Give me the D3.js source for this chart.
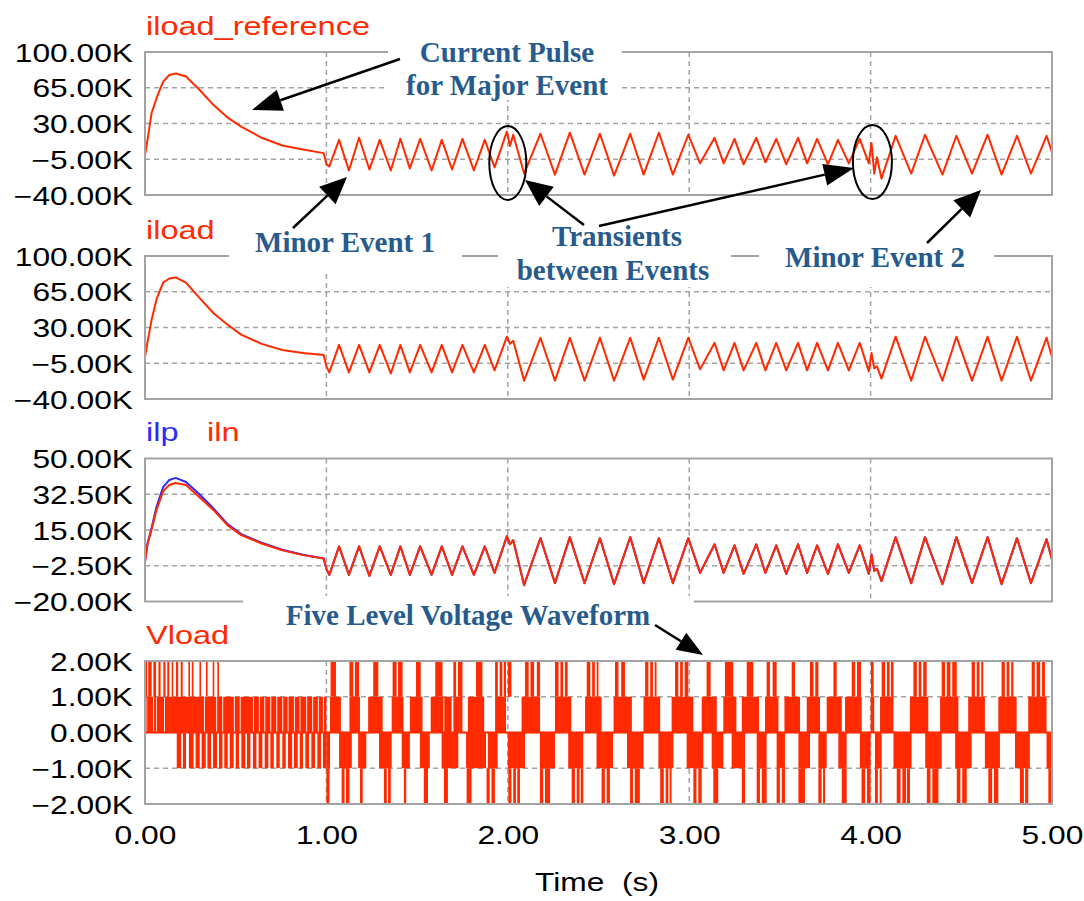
<!DOCTYPE html>
<html>
<head>
<meta charset="utf-8">
<script src="https://cdn.jsdelivr.net/npm/d3@7"></script>
<style>
  body { margin: 0; background: #fff; }
  svg { display: block; }
</style>
</head>
<body>
<div id="container"></div>
<script>
/* ---- data ---- */
const xTicks = [0, 1, 2, 3, 4, 5];
const refTicks = [100, 65, 30, -5, -40];
const iloadTicks = [100, 65, 30, -5, -40];
const ilTicks = [50, 32.5, 15, -2.5, -20];
const vTicks = [2, 1, 0, -1, -2];

/* current pulse (0..1 s), kA */
const pulseT     = [0, 0.014, 0.036, 0.064, 0.1, 0.134, 0.169, 0.226, 0.3, 0.378, 0.454, 0.53, 0.643, 0.757, 0.871, 0.985];
const refPulse   = [-0.8, 14, 40, 55, 71, 77.5, 79, 76, 63, 48, 36, 27, 16, 8.5, 4.5, 1];
const iloadPulse = [1, 16, 37, 58, 74, 78, 79, 74, 59, 44, 33, 23, 14, 8, 5, 3];
const ilnPulse   = [-0.6, 8, 15, 25, 34, 37, 38, 37, 31, 24.7, 17.4, 12.5, 8.4, 5.1, 2.7, 1];
const ilpPulse   = [-0.6, 8.5, 16, 26.5, 36, 39.5, 40.5, 38.5, 32.5, 25.5, 18, 13, 8.8, 5.3, 2.9, 1.1];

/* turning points of the oscillation (1..5 s) */
const tTurn = [1.0, 1.016, 1.07, 1.124, 1.18, 1.237, 1.294, 1.355, 1.408, 1.46, 1.517, 1.58, 1.636, 1.693, 1.75, 1.813, 1.873, 1.927,
  1.995, 2.012, 2.03, 2.09, 2.18, 2.26, 2.342, 2.423, 2.508, 2.586, 2.675, 2.749, 2.833, 2.91, 2.995,
  3.06, 3.14, 3.19, 3.25, 3.30, 3.37, 3.42, 3.48, 3.535, 3.6, 3.65, 3.705, 3.765, 3.82, 3.88, 3.94, 3.99,
  4.005, 4.02, 4.035, 4.06, 4.138, 4.224, 4.30, 4.396, 4.473, 4.559, 4.645, 4.722, 4.807, 4.884, 4.97, 5.0];
const refTurn = [-10, -12, 14, -16, 16, -15, 14, -16, 15, -14, 15, -16, 14, -15, 15, -16, 14, -13,
  22, 8, 19, -19, 20, -20, 21, -20, 20, -21, 20, -20, 21, -20, 19,
  -9, 16, -9, 15, -10, 16, -8, 15, -10, 16, -9, 15, -10, 14, -9, 15, -9,
  11, -19, -3, -24, 18, -19, 19, -20, 18, -19, 19, -20, 18, -19, 18, 2];
const iloadTurn = [-8, -14, 13, -14, 13, -14, 13, -15, 13, -14, 13, -14, 13, -14, 13, -14, 13, -12,
  21, 14, 17, -22, 20, -22, 20, -22, 20, -22, 20, -21, 20, -21, 20,
  -11, 15, -12, 15, -12, 15, -12, 15, -12, 15, -12, 15, -12, 15, -12, 15, -13,
  5, -10, -8, -20, 21, -22, 21, -22, 21, -22, 21, -22, 21, -22, 20, 1];
const ilnTurn = [-4, -7, 7, -7, 7, -7.5, 7, -7, 7, -7, 7, -7, 7, -7, 7, -7, 7, -6,
  12, 8, 10, -12, 11, -11, 11.5, -11, 11, -11.5, 11.5, -11, 11, -11, 11,
  -6, 8, -6, 7.5, -6.5, 8, -6, 7.5, -6.5, 8, -6, 7.5, -6.5, 8, -6, 7.5, -6.5,
  3, -5, -4, -10, 11.5, -11, 11.5, -11.5, 11.5, -11, 11.5, -11.5, 11, -11, 10.5, 0.5];

/* Vload switching bands, [start, end] in s */
const vTop = [[0,0.012],[0.018,0.037],[0.046,0.061],[0.074,0.086],[0.101,0.113],[0.123,0.134],[0.147,0.156],[0.171,0.183],
  [0.197,0.208],[0.239,0.248],[0.258,0.267],[0.3,0.309],[0.336,0.345],[0.373,0.381],[0.399,0.407],
  [1.023,1.053],[1.127,1.148],[1.157,1.18],[1.258,1.286],[1.365,1.387],[1.395,1.42],[1.494,1.52],[1.6,1.64],
  [1.70,1.715],[1.725,1.75],[1.825,1.86],[1.93,1.945],[1.955,1.97],[1.978,1.99],[2.0,2.02],
  [2.095,2.115],[2.125,2.145],[2.16,2.178],[2.26,2.28],[2.29,2.305],[2.315,2.33],[2.435,2.455],[2.465,2.48],[2.49,2.5],
  [2.591,2.61],[2.625,2.646],[2.757,2.775],[2.785,2.8],[2.81,2.82],[2.922,2.94],[2.95,2.965],[2.975,2.995],
  [3.096,3.118],[3.197,3.243],[3.317,3.353],[3.427,3.445],[3.46,3.482],[3.565,3.583],[3.666,3.685],[3.695,3.712],
  [3.795,3.813],[3.896,3.915],[3.925,3.947],[4.002,4.017],[4.061,4.08],[4.09,4.105],[4.112,4.126],
  [4.236,4.255],[4.265,4.28],[4.29,4.309],[4.392,4.41],[4.42,4.44],[4.45,4.475],[4.557,4.575],[4.585,4.6],[4.61,4.621],
  [4.722,4.74],[4.75,4.765],[4.775,4.787],[4.888,4.905],[4.915,4.935],[4.945,4.961]];
const vUpper = [[0,0.008],[0.012,0.045],[0.05,0.062],[0.066,0.105],[0.11,0.325],[0.33,0.393],[0.398,0.426],[0.431,0.49],
  [0.495,0.522],[0.527,0.595],[0.6,0.628],[0.633,0.658],[0.663,0.691],[0.696,0.724],[0.729,0.757],[0.762,0.786],
  [0.791,0.821],[0.826,0.852],[0.857,0.889],[0.894,0.922],[0.927,0.953],[0.958,0.981],[0.986,1.0],
  [1.02,1.08],[1.127,1.185],[1.23,1.31],[1.36,1.425],[1.46,1.53],[1.575,1.645],[1.65,1.69],[1.70,1.75],[1.78,1.87],
  [1.93,1.99],[2.076,2.178],[2.26,2.35],[2.426,2.517],[2.583,2.684],[2.748,2.84],[2.903,3.023],[3.069,3.152],
  [3.188,3.26],[3.29,3.385],[3.418,3.492],[3.525,3.611],[3.648,3.721],[3.758,3.841],[3.859,3.951],[4.0,4.02],
  [4.052,4.126],[4.217,4.318],[4.383,4.484],[4.538,4.63],[4.704,4.805],[4.869,4.97]];
const vLower = [[0.175,0.199],[0.209,0.226],[0.242,0.268],[0.279,0.302],[0.312,0.335],[0.344,0.364],[0.375,0.397],
  [0.408,0.427],[0.437,0.456],[0.467,0.489],[0.5,0.518],[0.531,0.553],[0.562,0.581],[0.595,0.614],[0.626,0.647],
  [0.66,0.68],[0.691,0.71],[0.724,0.743],[0.757,0.776],[0.788,0.811],[0.821,0.842],[0.853,0.871],[0.884,0.904],
  [0.917,0.937],[0.95,0.97],[0.981,1.0],
  [1.0,1.02],[1.07,1.14],[1.175,1.22],[1.29,1.36],[1.415,1.46],[1.515,1.57],[1.635,1.727],[1.77,1.88],[1.89,1.944],
  [2.0,2.095],[2.177,2.26],[2.333,2.416],[2.489,2.58],[2.657,2.748],[2.83,2.913],[2.986,3.078],[3.124,3.188],
  [3.234,3.308],[3.372,3.427],[3.482,3.528],[3.602,3.666],[3.712,3.758],[3.822,3.868],[3.941,4.0],[4.024,4.061],
  [4.126,4.226],[4.301,4.392],[4.466,4.557],[4.63,4.713],[4.796,4.878],[4.97,5.0]];
const vBottom = [[1.0,1.017],[1.084,1.1],[1.108,1.127],[1.185,1.2],[1.317,1.333],[1.34,1.355],[1.427,1.44],[1.537,1.56],
  [1.648,1.67],[1.773,1.8],[1.883,1.9],[1.91,1.929],[2.003,2.02],[2.03,2.045],[2.052,2.067],[2.177,2.195],[2.205,2.233],
  [2.352,2.37],[2.38,2.395],[2.402,2.416],[2.517,2.535],[2.545,2.563],[2.674,2.69],[2.7,2.728],[2.84,2.86],[2.87,2.885],
  [2.892,2.903],[3.023,3.04],[3.05,3.069],[3.133,3.16],[3.29,3.308],[3.372,3.39],[3.4,3.427],[3.482,3.5],[3.51,3.528],
  [3.602,3.638],[3.712,3.73],[3.738,3.749],[3.841,3.868],[3.95,3.97],[3.98,4.0],[4.024,4.04],[4.05,4.061],
  [4.144,4.165],[4.175,4.195],[4.2,4.217],[4.31,4.33],[4.34,4.374],[4.475,4.495],[4.505,4.53],[4.649,4.67],
  [4.68,4.704],[4.823,4.845],[4.852,4.869],[4.98,5.0]];

/* ---- style ---- */
const red = "#ff2a00", blue = "#2b2bff", gridCol = "#a3a3a3", noteCol = "#275b8d";
const sansFont = "'Liberation Sans', Arial, sans-serif";
const serifFont = "'Liberation Serif', 'Times New Roman', serif";
const stretch = 1.27;
const panelH = 143;

const svg = d3.select("#container").append("svg")
  .attr("width", 1084).attr("height", 901);

const x = d3.scaleLinear().domain([0, 5]).range([145, 1052]);

const panels = [
  {top: 52, ticks: refTicks, titles: [["iload_reference", red, 146]],
   series: [[pulseT.concat(tTurn), refPulse.concat(refTurn), red]]},
  {top: 256, ticks: iloadTicks, titles: [["iload", red, 146]],
   series: [[pulseT.concat(tTurn), iloadPulse.concat(iloadTurn), red]]},
  {top: 458.5, ticks: ilTicks, titles: [["ilp", blue, 146], ["iln", red, 207]],
   series: [[pulseT.concat(tTurn), ilpPulse.concat(ilnTurn), blue], [pulseT.concat(tTurn), ilnPulse.concat(ilnTurn), red]]},
  {top: 661, ticks: vTicks, titles: [["Vload", red, 146]], series: []}
];

function stretchedText(sel, tx, ty, txt, size, col, anchor, sx) {
  return sel.append("text")
    .attr("transform", "translate(" + tx + "," + ty + ") scale(" + (sx || stretch) + ",1)")
    .attr("font-family", sansFont).attr("font-size", size)
    .attr("fill", col).attr("text-anchor", anchor || "start")
    .style("white-space", "pre")
    .text(txt);
}

panels.forEach(function (p, i) {
  const y = d3.scaleLinear().domain([p.ticks[4], p.ticks[0]]).range([p.top + panelH, p.top]);
  const g = svg.append("g");

  // grid
  g.selectAll("line.h").data(p.ticks.slice(1, 4)).enter().append("line")
    .attr("x1", x(0)).attr("x2", x(5))
    .attr("y1", function (d) { return y(d); }).attr("y2", function (d) { return y(d); })
    .attr("stroke", gridCol).attr("stroke-width", 1.5).attr("stroke-dasharray", "5,4");
  g.selectAll("line.v").data(xTicks.slice(1, 5)).enter().append("line")
    .attr("x1", function (d) { return x(d); }).attr("x2", function (d) { return x(d); })
    .attr("y1", p.top).attr("y2", p.top + panelH)
    .attr("stroke", gridCol).attr("stroke-width", 1.5).attr("stroke-dasharray", "5,4");

  // y labels
  const ax = g.append("g").attr("transform", "translate(133,0)")
    .call(d3.axisLeft(y).tickValues(p.ticks)
      .tickFormat(function (d) { return d3.format(".2f")(d) + "K"; })
      .tickSize(0).tickPadding(0));
  ax.select(".domain").remove();
  ax.selectAll("text").attr("x", 0).attr("dy", "0.36em")
    .attr("transform", "scale(" + stretch + ",1)")
    .attr("font-family", sansFont).attr("font-size", 25).attr("fill", "#000");

  // titles
  p.titles.forEach(function (t) { stretchedText(svg, t[2], p.top - 17.5, t[0], 25, t[1], "start", 1.3); });

  // current traces
  p.series.forEach(function (s) {
    const line = d3.line().x(function (d) { return x(d[0]); }).y(function (d) { return y(d[1]); });
    g.append("path").datum(d3.zip(s[0], s[1]))
      .attr("d", line).attr("fill", "none")
      .attr("stroke", s[2]).attr("stroke-width", 2).attr("stroke-linejoin", "round");
  });

  // Vload bands
  if (i === 3) {
    const bands = [[vTop, 1, 2], [vUpper, 0, 1], [vLower, -1, 0], [vBottom, -2, -1]];
    bands.forEach(function (b) {
      g.selectAll(null).data(b[0]).enter().append("rect")
        .attr("x", function (d) { return x(d[0]); })
        .attr("width", function (d) { return Math.max(1.6, x(d[1]) - x(d[0])); })
        .attr("y", y(b[2])).attr("height", y(b[1]) - y(b[2]))
        .attr("fill", red);
    });
    g.append("line").attr("x1", x(0)).attr("x2", x(5)).attr("y1", y(0)).attr("y2", y(0))
      .attr("stroke", red).attr("stroke-width", 2);
  }

  // frame
  g.append("rect").attr("x", x(0)).attr("y", p.top)
    .attr("width", x(5) - x(0)).attr("height", panelH)
    .attr("fill", "none").attr("stroke", gridCol).attr("stroke-width", 2);
});

// x axis labels
const xa = svg.append("g").attr("transform", "translate(0,844)")
  .call(d3.axisBottom(x).tickValues(xTicks).tickFormat(d3.format(".2f")).tickSize(0).tickPadding(0));
xa.select(".domain").remove();
xa.selectAll("text").attr("y", 0).attr("dy", 0)
  .attr("transform", "scale(" + stretch + ",1)")
  .attr("font-family", sansFont).attr("font-size", 25).attr("fill", "#000");
stretchedText(svg, 597, 891, "Time  (s)", 25, "#000", "middle");

/* ---- annotations ---- */
const boxes = [[388, 30, 234, 70], [229, 225, 233, 47], [498, 222, 233, 65], [759, 240, 235, 47], [243, 596, 451, 37]];
svg.selectAll("rect.box").data(boxes).enter().append("rect")
  .attr("x", function (d) { return d[0]; }).attr("y", function (d) { return d[1]; })
  .attr("width", function (d) { return d[2]; }).attr("height", function (d) { return d[3]; })
  .attr("fill", "#fff");

const notes = [["Current Pulse", 507, 62], ["for Major Event", 507, 95], ["Minor Event 1", 345, 252],
  ["Transients", 617, 246], ["between Events", 613, 280], ["Minor Event 2", 875, 267],
  ["Five Level Voltage Waveform", 468, 625]];
svg.selectAll("text.note").data(notes).enter().append("text")
  .attr("x", function (d) { return d[1]; }).attr("y", function (d) { return d[2]; })
  .attr("text-anchor", "middle").attr("font-family", serifFont)
  .attr("font-weight", "bold").attr("font-size", 29).attr("fill", noteCol)
  .text(function (d) { return d[0]; });

svg.append("ellipse").attr("cx", x(2.0)).attr("cy", 163).attr("rx", 18.5).attr("ry", 37)
  .attr("fill", "none").attr("stroke", "#000").attr("stroke-width", 2);
svg.append("ellipse").attr("cx", x(4.01)).attr("cy", 162).attr("rx", 19.5).attr("ry", 37)
  .attr("fill", "none").attr("stroke", "#000").attr("stroke-width", 2);

function arrow(x1, y1, x2, y2, len, hw) {
  const a = Math.atan2(y2 - y1, x2 - x1);
  const bx = x2 - len * Math.cos(a), by = y2 - len * Math.sin(a);
  svg.append("line").attr("x1", x1).attr("y1", y1).attr("x2", bx).attr("y2", by)
    .attr("stroke", "#000").attr("stroke-width", 2.5);
  svg.append("path")
    .attr("d", "M" + x2 + "," + y2 + "L" + (bx + hw * Math.sin(a)) + "," + (by - hw * Math.cos(a)) +
      "L" + (bx - hw * Math.sin(a)) + "," + (by + hw * Math.cos(a)) + "Z")
    .attr("fill", "#000");
}
arrow(400, 59, 252, 110, 30, 11);
arrow(293, 228, 347, 177, 27, 12);
arrow(584, 225, 525, 180, 27, 12);
arrow(599, 226, 854, 168, 30, 11);
arrow(927, 243, 981, 190, 27, 12);
arrow(655, 625, 703, 655, 26, 10);
</script>
</body>
</html>
